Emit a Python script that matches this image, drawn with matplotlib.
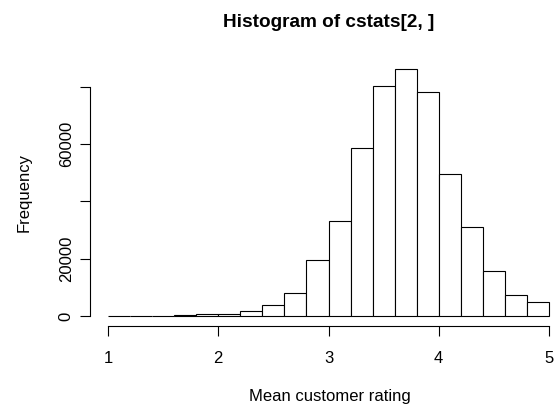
import numpy as np
import matplotlib.pyplot as plt

plt.rcParams['font.family'] = ['Liberation Sans', 'DejaVu Sans']

# Histogram bins (width 0.2 from 1 to 5) and counts per bin
bin_edges = np.round(np.arange(1.0, 5.01, 0.2), 1)
counts = [150, 120, 200, 250, 600, 650, 1750, 3850, 8000, 19500,
          33300, 58500, 80300, 86100, 78000, 49400, 31200, 15700, 7200, 4900]
xticks = [1, 2, 3, 4, 5]
yticks = [0, 20000, 40000, 60000, 80000]
ytick_labels = ['0', '20000', '', '60000', '']

fig = plt.figure(figsize=(5.57, 4.05), dpi=100)
ax = fig.add_axes([90.4 / 557, (405 - 326) / 405, 476.2 / 557, 266.6 / 405])

widths = np.diff(bin_edges)
ax.bar(bin_edges[:-1], counts, width=widths, align='edge',
       color='white', edgecolor='black', linewidth=0.8)

# R-style extents: 4% padding around the data range
ymax = max(counts)
ax.set_xlim(1 - 0.04 * 4, 5 + 0.04 * 4)
ax.set_ylim(-0.04 * ymax, 1.04 * ymax)

for s in ['top', 'right']:
    ax.spines[s].set_visible(False)
ax.spines['left'].set_bounds(0, 80000)
ax.spines['bottom'].set_bounds(1, 5)
for s in ['left', 'bottom']:
    ax.spines[s].set_linewidth(0.8)

ax.set_xticks(xticks)
ax.set_xticklabels([str(t) for t in xticks])
ax.set_yticks(yticks)
ax.set_yticklabels(ytick_labels)
ax.tick_params(axis='both', length=7, width=0.8, labelsize=12)
ax.tick_params(axis='x', pad=11)
ax.tick_params(axis='y', pad=5)
for lab in ax.get_yticklabels():
    lab.set_rotation(90)
    lab.set_va('center')
    lab.set_ha('right')

fig.text(328.5 / 557, 1 - 26.7 / 405, 'Histogram of cstats[2, ]',
         ha='center', va='baseline', fontsize=13.7, fontweight='bold')
fig.text(330 / 557, 1 - 401 / 405, 'Mean customer rating',
         ha='center', va='baseline', fontsize=12)
fig.text(24 / 557, 1 - 192 / 405, 'Frequency',
         ha='center', va='center', rotation=90, fontsize=12)

fig.savefig('out.png', dpi=100)
